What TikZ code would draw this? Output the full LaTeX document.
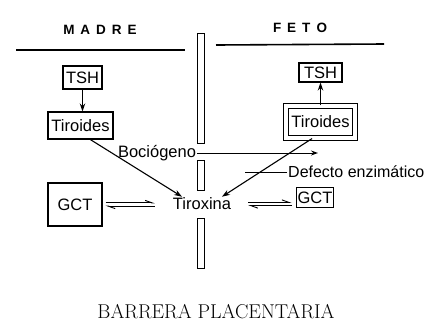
\documentclass[tikz,border=0pt]{standalone}
\usepackage{fontspec}
\newfontfamily\sansfont{Liberation Sans}
\usetikzlibrary{arrows.meta}
\usetikzlibrary{calc}
\newcommand{\drawBarra}[2]{
	\draw[line width=1pt] (#1) rectangle (#2);
}
\newcommand{\drawEquilibrio}[4]{
	\draw[harpoon, shorten <=#3, shorten >=#4] ([yshift=1.6pt]#1) -- ([yshift=1.6pt]#2);
	\draw[harpoon, shorten <=#4, shorten >=#3] ([yshift=-1.6pt]#2) -- ([yshift=-1.6pt]#1);
}
\tikzset{
	caja/.style={draw, line width=1.1pt, inner sep=0pt, font=\sansfont\fontsize{16.5}{18}\selectfont},
	texto/.style={inner sep=1pt, font=\sansfont\fontsize{16.5}{18}\selectfont},
	titulo/.style={inner sep=0pt, font=\sansfont\bfseries\fontsize{13.5}{15}\selectfont},
	flecha/.style={-{Stealth[length=8pt,width=5.5pt]}, line width=1.1pt},
	harpoon/.style={-{Straight Barb[left,length=7pt,width=5pt]}, line width=0.9pt},
}

\begin{document}
\begin{tikzpicture}[x=1pt, y=-1pt]
		\useasboundingbox (0,0) rectangle (428,322);

		\coordinate (M_L) at (16,50);
		\coordinate (M_R) at (185,50);
		\coordinate (F_L) at (216,45);
		\coordinate (F_R) at (384,44);
		\coordinate (B1_T) at (197,33);
		\coordinate (B1_B) at (204,143);
		\coordinate (B2_T) at (197,160);
		\coordinate (B2_B) at (204,190);
		\coordinate (B3_T) at (197,218);
		\coordinate (B3_B) at (204,268);

		\node[titulo] (madre) at (100,30) {M\hspace{6pt}A\hspace{6pt}D\hspace{6pt}R\hspace{6pt}E};
		\node[titulo] (feto) at (300,28) {F\hspace{6pt}E\hspace{6pt}T\hspace{6pt}O};
		\draw[line width=1.6pt] (M_L) -- (M_R);
		\draw[line width=1.6pt] (F_L) -- (F_R);

		\drawBarra{B1_T}{B1_B}
		\drawBarra{B2_T}{B2_B}
		\drawBarra{B3_T}{B3_B}

		% madre
		\node[caja, minimum width=39pt, minimum height=23pt] (tshL) at (82.5,77.5) {TSH};
		\node[caja, minimum width=65pt, minimum height=27pt] (tirL) at (80.5,125.5) {Tiroides};
		\node[caja, minimum width=54pt, minimum height=43pt] (gcL) at (75,204.5) {GCT};

		% feto
		\node[caja, minimum width=43pt, minimum height=19pt] (tshR) at (320.5,72.5) {TSH};
		\node[caja, double, double distance=3.5pt, minimum width=69pt, minimum height=32pt] (tirR) at (320.5,122) {Tiroides};
		\node[caja, inner sep=1.5pt, minimum height=20pt] (gcR) at (315,197.5) {GCT};

		\node[texto] (tirox) at (202,204) {Tiroxina};
		\node[texto] (boc) at (157,153) {Bociógeno};
		\node[texto, anchor=west, font=\sansfont\fontsize{16}{18}\selectfont] (defe) at (287,172) {Defecto enzimático};
		\node[inner sep=0pt, font=\fontsize{20}{23}\selectfont] (barrera) at (216,312) {BARRERA PLACENTARIA};

		\coordinate (bocEnd) at (318,155);
		\coordinate (eqL) at (gcL.east -| tirox.west);
		\coordinate (gcRin) at ($(gcR.west)+(0,6.5)$);
		\coordinate (eqR) at (gcRin -| tirox.east);

		\draw[flecha] (tshL.south) -- (tshL.south |- tirL.north);
		\draw[flecha] (tirR.north) -- (tirR.north |- tshR.south);
		\draw[flecha] (tirL.-55) -- (tirox.160);
		\draw[flecha] (tirR.-117) -- (tirox.20);
		\draw[-{Stealth[open,length=7pt,width=5pt]}, line width=1pt] (boc.east) -- (boc.east -| bocEnd);
		\draw[line width=1pt] (defe.west) -- ++(-42,0);

		\drawEquilibrio{gcL.east}{eqL}{3pt}{17pt}
		\drawEquilibrio{eqR}{gcRin}{16pt}{4pt}
	\end{tikzpicture}
\end{document}
